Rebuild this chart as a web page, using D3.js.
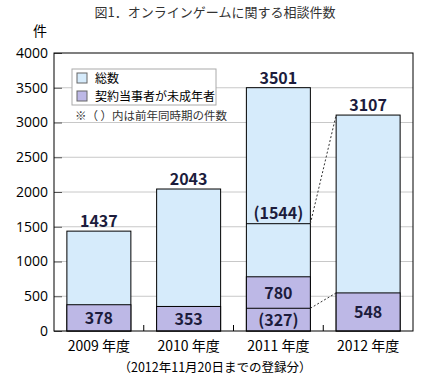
<!DOCTYPE html>
<html>
<head>
<meta charset="utf-8">
<script src="https://cdn.jsdelivr.net/npm/d3@7"></script>
<style>
  body { margin: 0; background: #fff; }
  text { font-family: "Noto Sans CJK JP", "Noto Sans", sans-serif; }
  .grid line { stroke: #c8c8c8; }
  .barLabel { font-weight: bold; font-size: 16px; fill: #1c1c3c; text-anchor: middle; }
</style>
</head>
<body>
<div class="chart"></div>
<script>
// data
var years = ["2009 年度", "2010 年度", "2011 年度", "2012 年度"];
var totals = [1437, 2043, 3501, 3107];
var minors = [378, 353, 780, 548];
// previous-year same period (only 2011 shown)
var prevTotal = 1544;
var prevMinor = 327;
var yTicks = [0, 500, 1000, 1500, 2000, 2500, 3000, 3500, 4000];

var width = 431, height = 379;
var margin = { top: 53, bottom: 48, left: 54, right: 18 };

var svg = d3.select(".chart").append("svg")
            .attr("width", width)
            .attr("height", height);

var scaleX = d3.scaleBand()
               .domain(years)
               .range([margin.left, width - margin.right])
               .paddingInner(0.287)
               .paddingOuter(0.1435);

var scaleY = d3.scaleLinear()
               .domain([0, 4000])
               .range([height - margin.bottom, margin.top]);

var x0 = margin.left, x1 = width - margin.right;

// title
svg.append("text")
   .attr("x", 215).attr("y", 17)
   .style("text-anchor", "middle")
   .style("font-size", "13px")
   .style("fill", "#333")
   .text("図1．オンラインゲームに関する相談件数");

svg.append("text")
   .attr("x", 40).attr("y", 36)
   .style("text-anchor", "middle")
   .style("font-size", "14px")
   .text("件");

// gridlines
svg.append("g")
   .attr("class", "grid")
   .selectAll("line")
   .data(yTicks.slice(1, -1))
   .enter().append("line")
   .attr("x1", x0).attr("x2", x1)
   .attr("y1", function(d) { return scaleY(d); })
   .attr("y2", function(d) { return scaleY(d); });

// y axis with short inner ticks
var axisLeft = d3.axisLeft(scaleY)
                 .tickValues(yTicks)
                 .tickFormat(d3.format("d"))
                 .tickSize(-8)
                 .tickSizeOuter(0)
                 .tickPadding(6);

var gy = svg.append("g")
   .attr("transform", "translate(" + x0 + ",0)")
   .call(axisLeft);
gy.select(".domain").remove();
gy.selectAll(".tick line").attr("stroke", "#555");
gy.selectAll(".tick text")
  .attr("x", -6)
  .style("font-size", "14px")
  .style("font-family", "'Open Sans', 'Noto Sans', sans-serif")
  .attr("fill", "#000");

// bottom ticks between bars
var bounds = years.slice(1).map(function(d) { return scaleX(d) - scaleX.step() * scaleX.paddingInner() / 2; });
svg.selectAll(".xtick")
   .data(bounds)
   .enter().append("line")
   .attr("x1", function(d) { return d; }).attr("x2", function(d) { return d; })
   .attr("y1", scaleY(0)).attr("y2", scaleY(0) - 6)
   .attr("stroke", "#000");

// bars
var rows = years.map(function(y, i) { return { year: y, total: totals[i], minor: minors[i] }; });

svg.selectAll(".barTotal")
   .data(rows)
   .enter().append("rect")
   .attr("x", function(d) { return scaleX(d.year); })
   .attr("width", scaleX.bandwidth())
   .attr("y", function(d) { return scaleY(d.total); })
   .attr("height", function(d) { return scaleY(0) - scaleY(d.total); })
   .attr("fill", "#d6ebfb")
   .attr("stroke", "#000");

svg.selectAll(".barMinor")
   .data(rows)
   .enter().append("rect")
   .attr("x", function(d) { return scaleX(d.year); })
   .attr("width", scaleX.bandwidth())
   .attr("y", function(d) { return scaleY(d.minor); })
   .attr("height", function(d) { return scaleY(0) - scaleY(d.minor); })
   .attr("fill", "#bdb8e6")
   .attr("stroke", "#000");

// previous-year marks inside 2011 bar
var y11 = years[2], y12 = years[3];
[prevTotal, prevMinor].forEach(function(v) {
  svg.append("line")
     .attr("x1", scaleX(y11)).attr("x2", scaleX(y11) + scaleX.bandwidth())
     .attr("y1", scaleY(v)).attr("y2", scaleY(v))
     .attr("stroke", "#000");
});

// dotted connectors
svg.append("line")
   .attr("x1", scaleX(y11) + scaleX.bandwidth()).attr("y1", scaleY(prevTotal))
   .attr("x2", scaleX(y12)).attr("y2", scaleY(totals[3]))
   .attr("stroke", "#333").attr("stroke-dasharray", "2,2");
svg.append("line")
   .attr("x1", scaleX(y11) + scaleX.bandwidth()).attr("y1", scaleY(prevMinor))
   .attr("x2", scaleX(y12)).attr("y2", scaleY(minors[3]))
   .attr("stroke", "#333").attr("stroke-dasharray", "2,2");

// frame
svg.append("rect")
   .attr("x", x0).attr("y", scaleY(4000))
   .attr("width", x1 - x0).attr("height", scaleY(0) - scaleY(4000))
   .attr("fill", "none").attr("stroke", "#000");

// labels
function cx(d) { return scaleX(d.year) + scaleX.bandwidth() / 2; }

svg.selectAll(".lblTotal")
   .data(rows)
   .enter().append("text")
   .attr("class", "barLabel")
   .attr("x", cx)
   .attr("y", function(d) { return scaleY(d.total) - 4; })
   .text(function(d) { return d.total; });

svg.selectAll(".lblMinor")
   .data(rows)
   .enter().append("text")
   .attr("class", "barLabel")
   .attr("x", cx)
   .attr("y", function(d, i) {
     if (i === 2) return (scaleY(d.minor) + scaleY(prevMinor)) / 2 + 6;
     return (scaleY(d.minor) + scaleY(0)) / 2 + 6;
   })
   .text(function(d) { return d.minor; });

svg.append("text")
   .attr("class", "barLabel")
   .attr("x", scaleX(y11) + scaleX.bandwidth() / 2)
   .attr("y", scaleY(prevTotal) - 5)
   .text("(" + prevTotal + ")");

svg.append("text")
   .attr("class", "barLabel")
   .attr("x", scaleX(y11) + scaleX.bandwidth() / 2)
   .attr("y", (scaleY(prevMinor) + scaleY(0)) / 2 + 6)
   .text("(" + prevMinor + ")");

// x labels
svg.selectAll(".xlabel")
   .data(years)
   .enter().append("text")
   .attr("x", function(d) { return scaleX(d) + scaleX.bandwidth() / 2; })
   .attr("y", 351)
   .style("text-anchor", "middle")
   .style("font-size", "14px")
   .text(function(d) { return d; });

svg.append("text")
   .attr("x", 215).attr("y", 372)
   .style("text-anchor", "middle")
   .style("font-size", "12.5px")
   .text("（2012年11月20日までの登録分）");

// legend
var legend = svg.append("g");
legend.append("rect")
      .attr("x", 72).attr("y", 69)
      .attr("width", 144).attr("height", 36)
      .attr("fill", "#fff").attr("stroke", "#aaa");
var legendItems = [{ label: "総数", color: "#d6ebfb" }, { label: "契約当事者が未成年者", color: "#bdb8e6" }];
legendItems.forEach(function(d, i) {
  legend.append("rect")
        .attr("x", 77).attr("y", 73 + i * 18)
        .attr("width", 10).attr("height", 10)
        .attr("fill", d.color).attr("stroke", "#666");
  legend.append("text")
        .attr("x", 95).attr("y", 83 + i * 18)
        .style("font-size", "12px")
        .text(d.label);
});
legend.append("text")
      .attr("x", 75).attr("y", 120)
      .style("font-size", "11.5px")
      .style("fill", "#333")
      .text("※（ ）内は前年同時期の件数");
</script>
</body>
</html>
